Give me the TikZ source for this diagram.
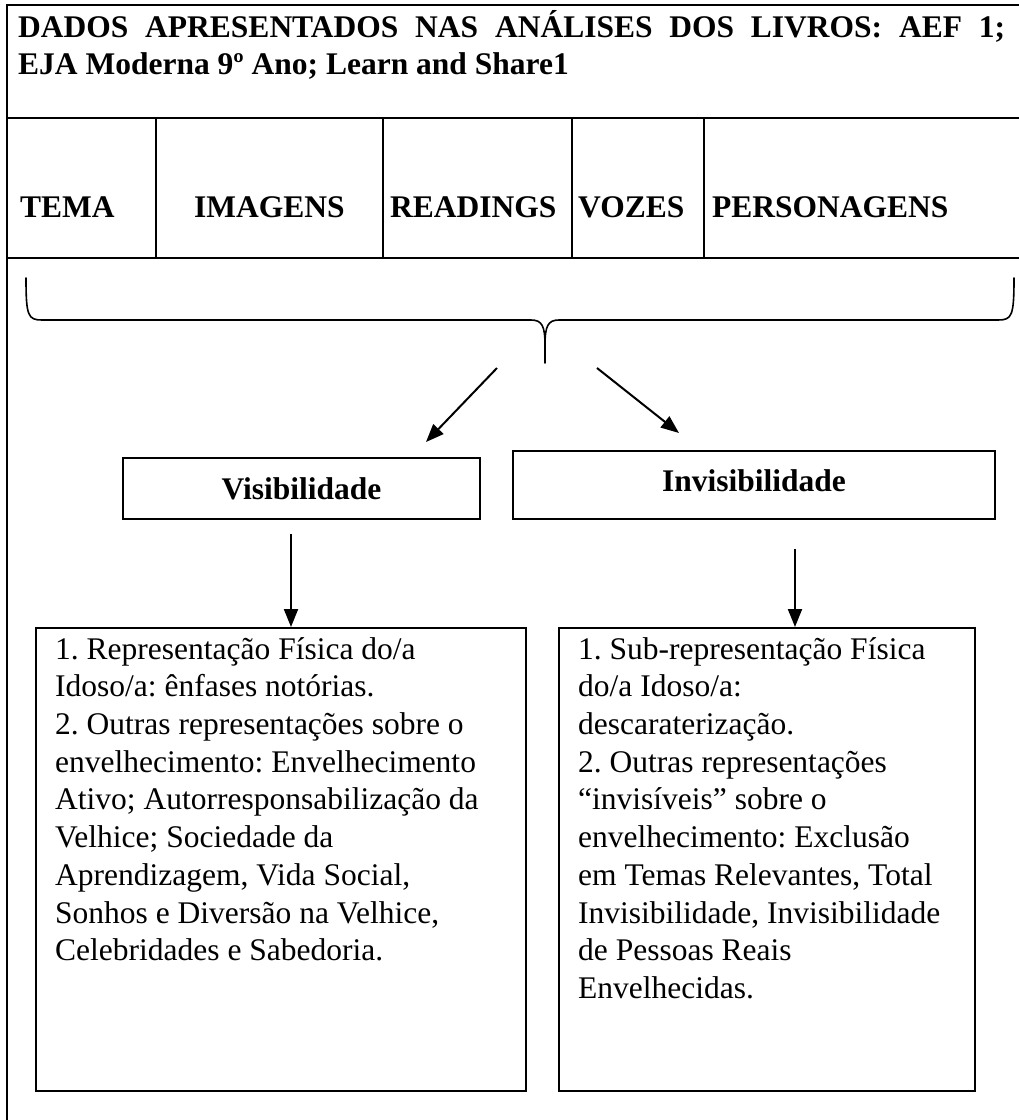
\documentclass[tikz,border=0pt]{standalone}
\usepackage{fontspec}
\setmainfont{Liberation Serif}
\usepackage{tikz}
\usetikzlibrary{arrows.meta,positioning}
\frenchspacing
\tikzset{
  frame/.style={draw=black, line width=2.6pt},
  sep/.style={draw=black, line width=2pt},
  boxline/.style={draw=black, line width=2pt},
  brace/.style={draw=black, line width=1.6pt, line cap=round, line join=round},
  arr/.style={draw=black, line width=2pt, -{Triangle[length=18pt,width=14pt]}},
  big/.style={font=\fontsize{31.5}{37.6}\selectfont\bfseries, inner sep=0pt},
  body/.style={font=\fontsize{31.5}{37.7}\selectfont, inner sep=0pt, align=left},
  catbox/.style={boxline, rectangle, inner sep=0pt},
}

\begin{document}
\begin{tikzpicture}[x=1pt,y=-1pt]
  \useasboundingbox (0,0) rectangle (1019,1120);
  % table
  \draw[frame] (7,1120) -- (7,5) -- (1019,5);
  \draw[frame] (7,118) -- (1019,118);
  \draw[frame] (7,258) -- (1019,258);
  \foreach \x in {156,383,572,704}
    \draw[sep] (\x,118) -- (\x,258);
  \node[big, anchor=base west] (title1) at (18,37)
    {\makebox[987pt][s]{DADOS APRESENTADOS NAS ANÁLISES DOS LIVROS: AEF 1;}};
  \node[big, anchor=base west] (title2) at (18,74) {EJA Moderna 9º Ano; Learn and Share1};
  \foreach \n/\x/\t in {tema/20/TEMA, imagens/194/IMAGENS, readings/390/READINGS,
                        vozes/578/VOZES, personagens/712/PERSONAGENS}
    \node[big, anchor=base west] (\n) at (\x,217) {\t};
  % brace
  \coordinate (bl) at (26,278);
  \coordinate (br) at (1014,278);
  \coordinate (bt) at (545,363);
  \draw[brace] (bl) .. controls (26,316) and (28,320) .. (42,320) -- (531,320)
    .. controls (542,320) and (545,326) .. (545,345) -- (bt);
  \draw[brace] (br) .. controls (1014,316) and (1012,320) .. (998,320) -- (559,320)
    .. controls (548,320) and (545,326) .. (545,345);
  % boxes
  \node[catbox, minimum width=357pt, minimum height=61pt, anchor=north west, big]
    (vis) at (122,457) {Visibilidade};
  \node[catbox, minimum width=482pt, minimum height=68pt, anchor=north west, big,
    text depth=8pt] (invis) at (512,450) {Invisibilidade};
  \coordinate (la) at (497,368);
  \coordinate (lb) at (426,442);
  \coordinate (ra) at (597,368);
  \coordinate (rb) at (679,433);
  \draw[arr] (la) -- (lb);
  \draw[arr] (ra) -- (rb);
  \node[catbox, minimum width=490pt, minimum height=463pt, anchor=north west]
    (visbox) at (35,627) {};
  \node[catbox, minimum width=416pt, minimum height=463pt, anchor=north west]
    (invisbox) at (558,627) {};
  \coordinate (va) at (291,534);
  \coordinate (ia) at (795,549);
  \draw[arr] (va) -- (visbox.north -| va);
  \draw[arr] (ia) -- (invisbox.north -| ia);
  \node[body, anchor=north west] (vistext) at (55,637)
    {1. Representação Física do/a\\
     Idoso/a: ênfases notórias.\\
     2. Outras representações sobre o\\
     envelhecimento: Envelhecimento\\
     Ativo; Autorresponsabilização da\\
     Velhice; Sociedade da\\
     Aprendizagem, Vida Social,\\
     Sonhos e Diversão na Velhice,\\
     Celebridades e Sabedoria.};
  \node[body, anchor=north west] (invistext) at (578,637)
    {1. Sub-representação Física\\
     do/a Idoso/a:\\
     descaraterização.\\
     2. Outras representações\\
     “invisíveis” sobre o\\
     envelhecimento: Exclusão\\
     em Temas Relevantes, Total\\
     Invisibilidade, Invisibilidade\\
     de Pessoas Reais\\
     Envelhecidas.};
\end{tikzpicture}
\end{document}
